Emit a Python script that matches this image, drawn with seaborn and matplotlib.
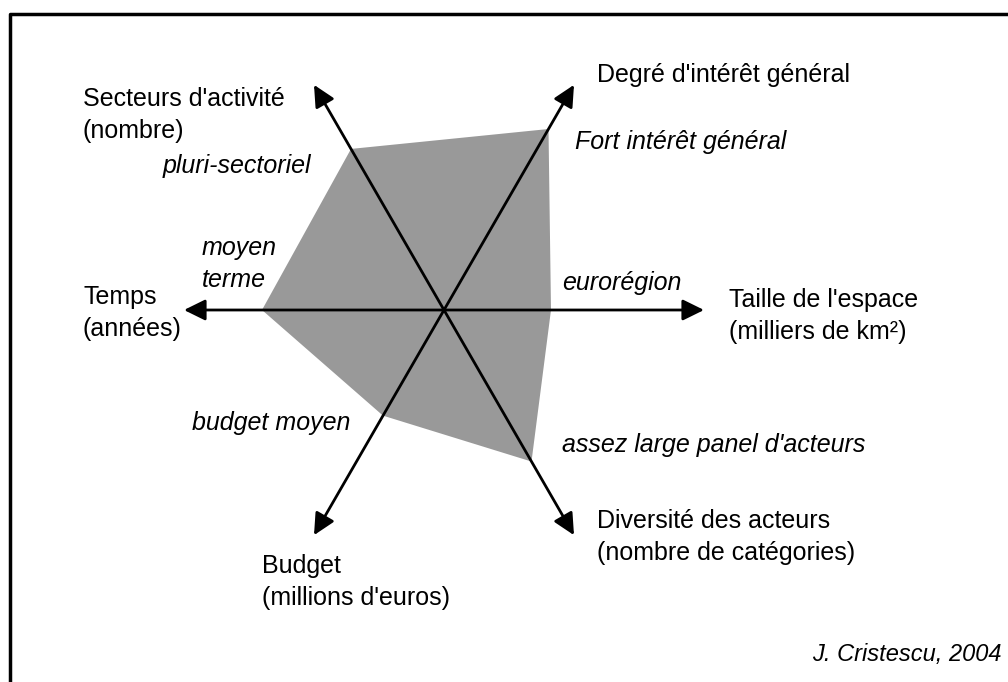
import numpy as np
import matplotlib
matplotlib.use("Agg")
import matplotlib.pyplot as plt
import seaborn as sns

# axes of the diagram (angle in degrees, counter-clockwise from east)
axis_names = [
    "Taille de l'espace\n(milliers de km²)",
    "Degré d'intérêt général",
    "Secteurs d'activité\n(nombre)",
    "Temps\n(années)",
    "Budget\n(millions d'euros)",
    "Diversité des acteurs\n(nombre de catégories)",
]
axis_angles = [0, 60, 120, 180, 240, 300]
# profile values along each axis (same units as the arrows, arrow = 260)
profile_values = [107, 209, 186, 182, 122, 175]
value_labels = [
    "eurorégion",
    "Fort intérêt général",
    "pluri-sectoriel",
    "moyen\nterme",
    "budget moyen",
    "assez large panel d'acteurs",
]
credit = "J. Cristescu, 2004"

sns.set_theme(style="white")
plt.rcParams['font.family'] = ['Liberation Sans', 'DejaVu Sans']
plt.rcParams['text.color'] = 'black'

fig = plt.figure(figsize=(10.08, 6.82), dpi=100)
ax = fig.add_axes([0, 0, 1, 1])
ax.set_xlim(0, 1008)
ax.set_ylim(682, 0)
ax.axis("off")

cx, cy = 444, 310
arrow_len = 260
theta = np.deg2rad(axis_angles)

# shaded profile
px = cx + np.array(profile_values) * np.cos(theta)
py = cy - np.array(profile_values) * np.sin(theta)
ax.fill(px, py, color="#999999", lw=0, zorder=1)

# arrows
for t in theta:
    tip = (cx + arrow_len * np.cos(t), cy - arrow_len * np.sin(t))
    ax.annotate("", xy=tip, xytext=(cx, cy),
                arrowprops=dict(arrowstyle="-|>,head_length=0.65,head_width=0.32",
                                lw=2, color="black", mutation_scale=20,
                                shrinkA=0, shrinkB=0),
                zorder=3)

fs = 18
ls = 1.4
# axis titles
name_pos = [(729, 316, "left"), (597, 75, "left"), (83, 115, "left"),
            (83, 313, "left"), (262, 582, "left"), (597, 537, "left")]
for name, (x, y, ha) in zip(axis_names, name_pos):
    ax.text(x, y, name, ha=ha, va="center", fontsize=fs, linespacing=ls)

# value labels (italic)
label_pos = [(562, 283), (575, 142), (163, 166), (202, 264), (192, 423), (562, 445)]
for lab, (x, y) in zip(value_labels, label_pos):
    ax.text(x, y, lab, ha="left", va="center", fontsize=fs, style="italic",
            linespacing=ls)

ax.text(1002, 655, credit, ha="right", va="center", fontsize=17, style="italic")

# frame
ax.plot([10, 10, 1008], [682, 14, 14], color="black", lw=2.5, solid_capstyle="butt")

fig.savefig("out.png", dpi=100)
